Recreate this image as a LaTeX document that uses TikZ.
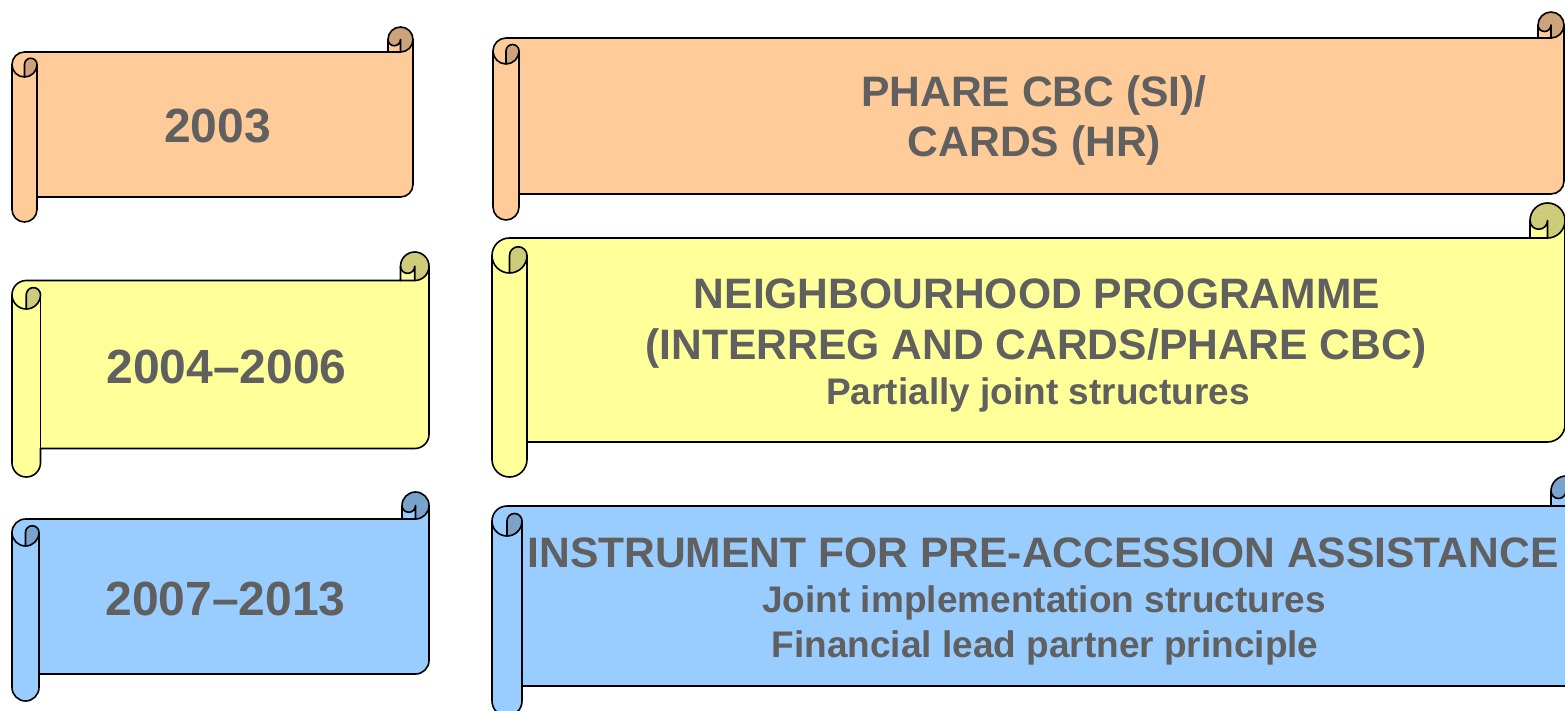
\documentclass[tikz,border=0pt]{standalone}
\usepackage{fontspec}
\setmainfont{Liberation Sans}
\definecolor{peachf}{RGB}{255,204,153}
\definecolor{yellowf}{RGB}{255,255,153}
\definecolor{bluef}{RGB}{153,204,255}
\definecolor{txtgray}{RGB}{96,96,96}
\tikzset{
  scrollline/.style={draw=black, line width=1.6pt, line join=round, line cap=round},
  bigtxt/.style={text=txtgray, inner sep=0pt, anchor=base, font=\bfseries\fontsize{42.6}{42.6}\selectfont},
  subtxt/.style={text=txtgray, inner sep=0pt, anchor=base, font=\bfseries\fontsize{37}{37}\selectfont},
  yeartxt/.style={text=txtgray, inner sep=0pt, anchor=base, font=\bfseries\fontsize{48}{48}\selectfont},
}
\newcommand{\drawscroll}[6]{%
  \pgfmathsetmacro{\scL}{#1}%
  \pgfmathsetmacro{\scT}{#2}%
  \pgfmathsetmacro{\scR}{#3}%
  \pgfmathsetmacro{\scB}{#4}%
  \pgfmathsetmacro{\scC}{#5}%
  \pgfmathsetmacro{\scH}{#5/2}%
  \pgfmathsetmacro{\scQ}{#5/4}%
  \pgfmathsetmacro{\scXa}{\scL+\scH}%
  \pgfmathsetmacro{\scXb}{\scL+\scC}%
  \pgfmathsetmacro{\scXc}{\scR-\scC}%
  \pgfmathsetmacro{\scXd}{\scR-\scH}%
  \pgfmathsetmacro{\scYa}{\scT+\scH}%
  \pgfmathsetmacro{\scYb}{\scT+\scC}%
  \pgfmathsetmacro{\scYc}{\scT+1.5*\scC}%
  \pgfmathsetmacro{\scYd}{\scT+2*\scC}%
  \pgfmathsetmacro{\scYe}{\scB-1.5*\scC}%
  \pgfmathsetmacro{\scYf}{\scB-\scC}%
  \pgfmathsetmacro{\scYg}{\scB-\scH}%
  \fill[#6] (\scR,\scYa) -- (\scR,\scYe) arc[start angle=0,delta angle=90,radius=\scH]
     -- (\scXb,\scYf) -- (\scXb,\scYg) arc[start angle=0,delta angle=180,radius=\scH]
     -- (\scL,\scYc) arc[start angle=180,delta angle=90,radius=\scH]
     -- (\scXc,\scYb) -- (\scXc,\scYa) arc[start angle=180,delta angle=180,radius=\scH] -- cycle;
  \fill[#6!80!black] (\scXa,\scYd) arc[start angle=90,delta angle=-90,radius=\scH]
     arc[start angle=0,delta angle=-180,radius=\scQ] -- cycle;
  \fill[#6!80!black] (\scXd,\scYb) arc[start angle=90,delta angle=-270,radius=\scH]
     arc[start angle=180,delta angle=-180,radius=\scQ] -- cycle;
  \draw[scrollline] (\scL,\scYc) arc[start angle=180,delta angle=90,radius=\scH]
     -- (\scXc,\scYb) -- (\scXc,\scYa) arc[start angle=180,delta angle=180,radius=\scH]
     -- (\scR,\scYe) arc[start angle=0,delta angle=90,radius=\scH]
     -- (\scXb,\scYf) -- (\scXb,\scYg) arc[start angle=0,delta angle=180,radius=\scH] -- cycle;
  \draw[scrollline] (\scXc,\scYb) -- (\scXd,\scYb) arc[start angle=90,delta angle=-90,radius=\scH];
  \draw[scrollline] (\scXd,\scYb) -- (\scXd,\scYa) arc[start angle=0,delta angle=180,radius=\scQ];
  \draw[scrollline] (\scXa,\scYd) -- (\scXa,\scYc) arc[start angle=180,delta angle=180,radius=\scQ]
     arc[start angle=0,delta angle=180,radius=\scH];
  \draw[scrollline] (\scXb,\scYc) -- (\scXb,\scYf);
}
\begin{document}
\begin{tikzpicture}[x=1pt,y=-1pt]
\useasboundingbox (0,0) rectangle (1565,711);
\clip (0,0) rectangle (1565,711);
\fill[white] (0,0) rectangle (1565,711);
% row 1
\drawscroll{12}{27}{413}{222}{25}{peachf}
\drawscroll{493}{12}{1564}{220}{26}{peachf}
% row 2
\drawscroll{12}{252}{429}{477}{28.5}{yellowf}
\drawscroll{492}{203}{1565}{477}{35}{yellowf}
% row 3
\drawscroll{12}{492}{429}{701}{27}{bluef}
\drawscroll{492}{476}{1581}{716}{30}{bluef}
% texts
\node[yeartxt] (y1) at (217.5,143) {2003};
\node[yeartxt] (y2) at (226.5,383) {2004–2006};
\node[yeartxt] (y3) at (225.5,615) {2007–2013};
\node[bigtxt] (p1) at (1034,107) {PHARE CBC (SI)/};
\node[bigtxt] (p2) at (1034.5,157) {CARDS (HR)};
\node[bigtxt] (n1) at (1037,308) {NEIGHBOURHOOD PROGRAMME};
\node[bigtxt] (n2) at (1036,359) {(INTERREG AND CARDS/PHARE CBC)};
\node[subtxt] (n3) at (1038,404) {Partially joint structures};
\node[bigtxt] (i1) at (1043,567) {INSTRUMENT FOR PRE-ACCESSION ASSISTANCE};
\node[subtxt] (i2) at (1044,612) {Joint implementation structures};
\node[subtxt] (i3) at (1045,657) {Financial lead partner principle};
\end{tikzpicture}
\end{document}
